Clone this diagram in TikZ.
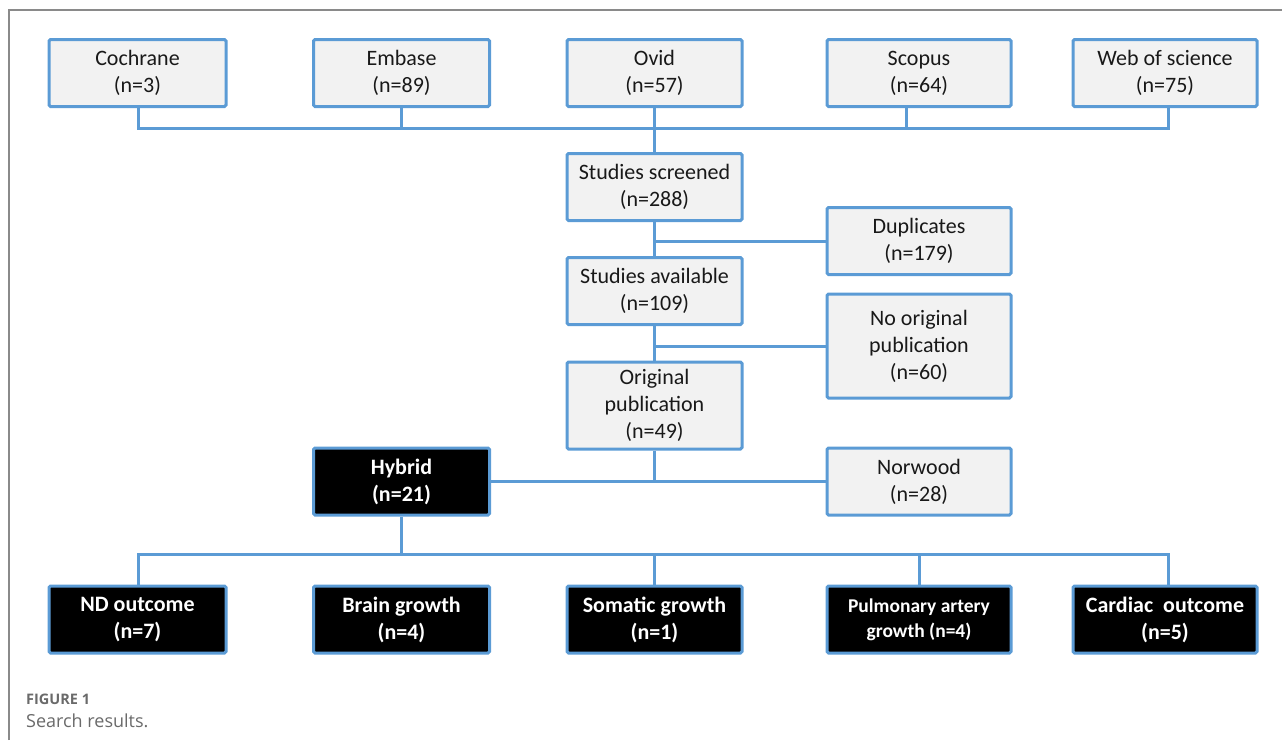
\documentclass[tikz,border=0pt]{standalone}
\usepackage{fontspec}
\setmainfont{Carlito}
\newfontfamily\capfont{Open Sans}
\definecolor{boxblue}{HTML}{5B9BD5}
\definecolor{boxfill}{HTML}{F2F2F2}
\definecolor{framegray}{HTML}{8A8A8A}
\definecolor{capgray}{HTML}{6A6A6A}
\tikzset{
  lightbox/.style={draw=boxblue, line width=3pt, fill=boxfill, rounded corners=1.5pt,
    align=center, minimum height=67pt, inner sep=0pt, text=black!90,
    font=\fontsize{22}{27}\selectfont},
  darkbox/.style={draw=boxblue, line width=3pt, fill=black, rounded corners=1.5pt,
    align=center, minimum height=67pt, inner sep=0pt, text=white,
    font=\bfseries\fontsize{22}{27}\selectfont},
  conn/.style={draw=boxblue, line width=3pt},
  frameline/.style={draw=framegray, line width=1.5pt}
}
\begin{document}
\begin{tikzpicture}[x=1pt,y=-1pt]
\useasboundingbox (0,0) rectangle (1282,740);
\draw[frameline] (9,740) -- (9,10) -- (1282,10);
% top row
\node[lightbox, minimum width=177pt] (coch) at (137.5,73) {Cochrane\\(n=3)};
\node[lightbox, minimum width=176pt] (emb) at (401.5,73) {Embase\\(n=89)};
\node[lightbox, minimum width=175pt] (ovid) at (654.5,73) {Ovid\\(n=57)};
\node[lightbox, minimum width=184pt] (scop) at (919,73) {Scopus\\(n=64)};
\node[lightbox, minimum width=184pt] (wos) at (1165,73) {Web of science\\(n=75)};
\coordinate (bus1) at (654,128);
\draw[conn] (coch.south -| 138,0) -- (138,128) -- (1168,128) -- (wos.south -| 1168,0);
\draw[conn] (emb.south) -- (emb.south |- bus1);
\draw[conn] (scop.south -| 906,0) -- (906,128);
% middle column
\node[lightbox, minimum width=175pt] (scr) at (654.5,187) {Studies screened\\(n=288)};
\node[lightbox, minimum width=184pt] (dup) at (919,241) {Duplicates\\(n=179)};
\node[lightbox, minimum width=175pt] (avail) at (654.5,291) {Studies available\\(n=109)};
\node[lightbox, minimum width=184pt, minimum height=104pt] (noorig) at (919,346) {No original\\publication\\(n=60)};
\node[lightbox, minimum width=175pt, minimum height=87pt] (orig) at (654.5,405.5) {Original\\publication\\(n=49)};
\node[darkbox, minimum width=176pt] (hyb) at (401.5,481.5) {Hybrid\\(n=21)};
\node[lightbox, minimum width=184pt] (nor) at (919,481.5) {Norwood\\(n=28)};
\draw[conn] (ovid.south) -- (scr.north);
\draw[conn] (scr.south) -- (avail.north);
\draw[conn] (dup.west) -- (dup.west -| scr.south);
\draw[conn] (avail.south) -- (orig.north);
\draw[conn] (noorig.west) -- (noorig.west -| avail.south);
\draw[conn] (hyb.east) -- (nor.west);
\draw[conn] (orig.south) -- (orig.south |- hyb.east);
% bottom row
\node[darkbox, minimum width=177pt] (nd) at (137.5,619.5) {ND outcome\\(n=7)};
\node[darkbox, minimum width=176pt] (brain) at (401.5,619.5) {Brain growth\\(n=4)};
\node[darkbox, minimum width=175pt] (som) at (654.5,619.5) {Somatic growth\\(n=1)};
\node[darkbox, minimum width=184pt, font=\bfseries\fontsize{19.5}{25}\selectfont] (pulm) at (919,619.5) {Pulmonary artery\\growth (n=4)};
\node[darkbox, minimum width=184pt] (card) at (1165,619.5) {Cardiac\ \ outcome\\(n=5)};
\coordinate (bus2) at (654,554);
\draw[conn] (hyb.south) -- (hyb.south |- bus2);
\draw[conn] (nd.north -| 138,0) -- (138,554) -- (1168,554) -- (card.north -| 1168,0);
\draw[conn] (som.north) -- (som.north |- bus2);
\draw[conn] (pulm.north -| 919,0) -- (919,554);
% caption
\node[anchor=base west, inner sep=0pt, text=capgray, font=\capfont\bfseries\fontsize{14.5}{17}\selectfont] (figlab) at (26,704) {FIGURE 1};
\node[anchor=base west, inner sep=0pt, text=capgray, font=\capfont\fontsize{18}{21}\selectfont] (figcap) at (26,727) {Search results.};
\end{tikzpicture}
\end{document}
